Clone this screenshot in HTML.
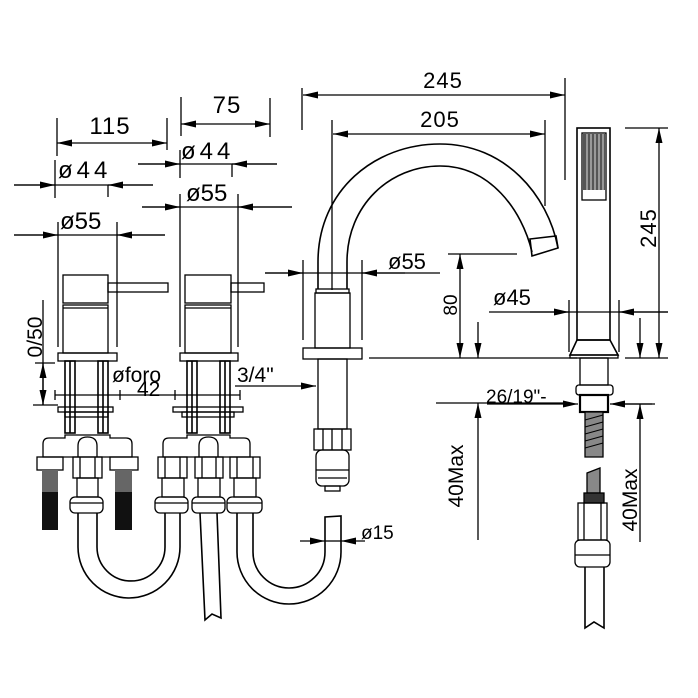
<!DOCTYPE html>
<html><head><meta charset="utf-8"><style>
html,body{margin:0;padding:0;background:#fff}
svg{display:block}
text{font-family:"Liberation Sans",sans-serif;fill:#000}
</style></head><body>
<svg width="698" height="698" viewBox="0 0 698 698" xmlns="http://www.w3.org/2000/svg">
<defs>
<marker id="a" markerUnits="userSpaceOnUse" markerWidth="16" markerHeight="8" refX="15" refY="3.5" orient="auto-start-reverse"><path d="M0,0 L15,3.5 L0,7 z" fill="#000"/></marker>
</defs>
<g stroke="#000" stroke-width="1.3" fill="none">
<line x1="57" y1="143" x2="167" y2="143" marker-start="url(#a)" marker-end="url(#a)"/>
<line x1="57" y1="118" x2="57" y2="156"/><line x1="167" y1="118" x2="167" y2="150"/>
<line x1="181" y1="124" x2="270" y2="124" marker-start="url(#a)" marker-end="url(#a)"/>
<line x1="181" y1="97" x2="181" y2="136"/><line x1="270" y1="98" x2="270" y2="137"/>
<line x1="14" y1="185" x2="153" y2="185"/>
<line x1="14" y1="185" x2="55" y2="185" marker-end="url(#a)"/>
<line x1="153" y1="185" x2="108" y2="185" marker-end="url(#a)"/>
<line x1="55" y1="160" x2="55" y2="198"/><line x1="108" y1="185" x2="108" y2="197"/>
<line x1="138" y1="164" x2="277" y2="164"/>
<line x1="138" y1="164" x2="180" y2="164" marker-end="url(#a)"/>
<line x1="277" y1="164" x2="232" y2="164" marker-end="url(#a)"/>
<line x1="180" y1="150" x2="180" y2="178"/><line x1="232" y1="164" x2="232" y2="177"/>
<line x1="142" y1="207" x2="292" y2="207"/>
<line x1="142" y1="207" x2="180" y2="207" marker-end="url(#a)"/>
<line x1="292" y1="207" x2="238" y2="207" marker-end="url(#a)"/>
<line x1="180" y1="194" x2="180" y2="347"/><line x1="238" y1="194" x2="238" y2="347"/>
<line x1="14" y1="235" x2="165" y2="235"/>
<line x1="14" y1="235" x2="58" y2="235" marker-end="url(#a)"/>
<line x1="165" y1="235" x2="117" y2="235" marker-end="url(#a)"/>
<line x1="58" y1="222" x2="58" y2="347"/><line x1="117" y1="222" x2="117" y2="347"/>

<rect x="63" y="275" width="45" height="28"/>
<rect x="63" y="305" width="45" height="48"/>
<line x1="63" y1="308" x2="108" y2="308"/>
<rect x="108" y="283" width="60" height="9"/>
<rect x="58" y="353" width="59" height="8"/>
<rect x="185" y="275" width="46" height="28"/>
<rect x="185" y="305" width="46" height="48"/>
<line x1="185" y1="308" x2="231" y2="308"/>
<rect x="231" y="283" width="33" height="9"/>
<rect x="180" y="353" width="58" height="8"/>

<g stroke-width="1.6">
<rect x="65" y="361" width="10" height="72"/><line x1="70" y1="361" x2="70" y2="433"/>
<rect x="98" y="361" width="10" height="72"/><line x1="103" y1="361" x2="103" y2="433"/>
<rect x="187" y="361" width="10" height="72"/><line x1="192" y1="361" x2="192" y2="433"/>
<rect x="220" y="361" width="10" height="72"/><line x1="225" y1="361" x2="225" y2="433"/>
</g>
<rect x="58" y="407" width="55" height="5"/><rect x="65" y="412" width="43" height="5"/>
<rect x="173" y="407" width="70" height="5"/><rect x="182" y="412" width="52" height="5"/>

<line x1="43" y1="300" x2="43" y2="405"/>
<line x1="43" y1="385" x2="43" y2="363" marker-end="url(#a)"/>
<line x1="43" y1="385" x2="43" y2="405" marker-end="url(#a)"/>
<line x1="35" y1="363" x2="55" y2="363"/><line x1="33" y1="405" x2="58" y2="405"/>
<line x1="55" y1="395" x2="240" y2="395"/>
<line x1="55" y1="390" x2="55" y2="400"/><line x1="120" y1="390" x2="120" y2="400"/>
<line x1="175" y1="390" x2="175" y2="400"/><line x1="240" y1="390" x2="240" y2="400"/>
<line x1="235" y1="386" x2="316" y2="386" marker-end="url(#a)"/>

<path d="M43,457 L43,444 Q43,438 49,438 L65,438 L65,435 L110,435 L110,438 L126,438 Q132,438 132,444 L132,457 Z"/>
<path d="M78,457 L78,446 Q78,437 87.5,437 Q97,437 97,446 L97,457"/>
<rect x="37" y="457" width="26" height="13"/><rect x="110" y="457" width="28" height="13"/>
<rect x="73" y="457" width="29" height="21"/><line x1="80" y1="457" x2="80" y2="478"/><line x1="95" y1="457" x2="95" y2="478"/>
<rect x="77" y="478" width="21" height="19"/>
<rect x="70" y="497" width="33" height="16" rx="5"/><line x1="70" y1="503" x2="103" y2="503"/>
<path d="M163,457 L163,444 Q163,438 169,438 L187,438 L187,435 L230,435 L230,438 L244,438 Q250,438 250,444 L250,457 Z"/>
<path d="M199,457 L199,446 Q199,437 208.5,437 Q218,437 218,446 L218,457"/>
<rect x="158" y="457" width="29" height="21"/><rect x="195" y="457" width="28" height="21"/><rect x="230" y="457" width="30" height="21"/>
<line x1="165" y1="457" x2="165" y2="478"/><line x1="180" y1="457" x2="180" y2="478"/>
<line x1="202" y1="457" x2="202" y2="478"/><line x1="216" y1="457" x2="216" y2="478"/>
<line x1="237" y1="457" x2="237" y2="478"/><line x1="253" y1="457" x2="253" y2="478"/>
<rect x="162" y="478" width="22" height="19"/><rect x="198" y="478" width="22" height="19"/><rect x="234" y="478" width="22" height="19"/>
<rect x="155" y="497" width="33" height="16" rx="5"/><line x1="155" y1="503" x2="188" y2="503"/>
<rect x="192" y="497" width="33" height="16" rx="5"/><line x1="192" y1="503" x2="225" y2="503"/>
<rect x="227" y="497" width="35" height="16" rx="5"/><line x1="227" y1="503" x2="262" y2="503"/>

<path d="M78,513 L78,547 A51,51 0 0 0 180,547 L180,513" stroke-width="1.6"/>
<path d="M97,513 L97,547 A34,34 0 0 0 165,547 L165,513" stroke-width="1.6"/>
<path d="M237,513 L237,552 A52,52 0 0 0 341,552 L341,516 L325,517 L325,552 A36,36 0 0 1 253,552 L253,513" stroke-width="1.6"/>
<path d="M200,513 L205,620 L212,614 L221,618 L217,513" stroke-width="1.6"/>
<line x1="300" y1="541" x2="325" y2="541" marker-end="url(#a)"/>
<line x1="365" y1="541" x2="341" y2="541" marker-end="url(#a)"/>
<line x1="325" y1="541" x2="341" y2="541"/>

<line x1="302" y1="88" x2="302" y2="130"/><line x1="565" y1="78" x2="565" y2="180"/>
<line x1="303" y1="95" x2="565" y2="95" marker-start="url(#a)" marker-end="url(#a)"/>
<line x1="332" y1="120" x2="332" y2="290"/><line x1="545" y1="120" x2="545" y2="206"/>
<line x1="333" y1="134" x2="545" y2="134" marker-start="url(#a)" marker-end="url(#a)"/>
<path d="M318,289 L318,262 C318,190 375,144 440,144 C505,144 548,195 558,248" stroke-width="1.6"/>
<path d="M347,289 L347,262 C347,205 390,166 440,166 C490,166 522,210 532,252" stroke-width="1.6"/>
<path d="M530,239 L556,236 L558,248 L532,256 Z" stroke-width="1.6"/>
<rect x="316" y="289" width="33" height="4"/>
<rect x="315" y="293" width="35" height="55"/>
<rect x="303" y="348" width="59" height="11"/>
<rect x="318" y="359" width="29" height="70"/>
<rect x="314" y="429" width="37" height="21"/><line x1="323" y1="429" x2="323" y2="450"/><line x1="332" y1="429" x2="332" y2="450"/><line x1="342" y1="429" x2="342" y2="450"/>
<rect x="316" y="450" width="33" height="36" rx="6"/><line x1="316" y1="470" x2="349" y2="470"/><line x1="318" y1="478" x2="347" y2="478"/>
<rect x="325" y="486" width="15" height="5"/>
<line x1="265" y1="273" x2="440" y2="273"/>
<line x1="265" y1="273" x2="303" y2="273" marker-end="url(#a)"/>
<line x1="405" y1="273" x2="362" y2="273" marker-end="url(#a)"/>
<line x1="303" y1="260" x2="303" y2="340"/><line x1="362" y1="260" x2="362" y2="340"/>
<line x1="448" y1="254" x2="517" y2="254"/>
<line x1="369" y1="358" x2="577" y2="358"/>
<line x1="460" y1="254" x2="460" y2="358" marker-start="url(#a)" marker-end="url(#a)"/>
<line x1="478" y1="322" x2="478" y2="358" marker-end="url(#a)"/>
<line x1="436" y1="403" x2="570" y2="403"/>
<line x1="478" y1="540" x2="478" y2="403" marker-end="url(#a)"/>
<line x1="487" y1="404" x2="578" y2="404" marker-end="url(#a)"/>
<line x1="652" y1="404" x2="610" y2="404" marker-end="url(#a)"/>

<rect x="577" y="128" width="33" height="212" stroke-width="1.6"/>
<rect x="582" y="133" width="24" height="67"/>
<rect x="583" y="134" width="22" height="56" fill="#555" stroke="none"/>
<g stroke="#fff" stroke-width="0.8"><line x1="587" y1="134" x2="587" y2="190"/><line x1="591" y1="134" x2="591" y2="190"/><line x1="595" y1="134" x2="595" y2="190"/><line x1="599" y1="134" x2="599" y2="190"/><line x1="603" y1="134" x2="603" y2="190"/></g>
<path d="M577,340 L610,340 L618,355 L570,355 Z" stroke-width="1.6"/>
<rect x="570" y="355" width="48" height="3"/>
<line x1="569" y1="300" x2="569" y2="352"/><line x1="619" y1="300" x2="619" y2="352"/>
<rect x="580" y="358" width="28" height="27"/>
<rect x="576" y="385" width="37" height="10" rx="3"/>
<rect x="580" y="395" width="28" height="17" stroke-width="2.2"/>
<path d="M585,412 L603,412 L603,457 L585,457 Z" fill="#888"/>
<g stroke-width="1"><line x1="585" y1="420" x2="603" y2="415"/><line x1="585" y1="427" x2="603" y2="422"/><line x1="585" y1="434" x2="603" y2="429"/><line x1="585" y1="441" x2="603" y2="436"/><line x1="585" y1="448" x2="603" y2="443"/></g>
<path d="M587,473 L600,468 L600,493 L587,493 Z" fill="#888"/>
<rect x="584" y="493" width="20" height="10" fill="#333"/>
<rect x="578" y="503" width="29" height="37"/><line x1="584" y1="503" x2="584" y2="540"/><line x1="601" y1="503" x2="601" y2="540"/>
<rect x="575" y="540" width="35" height="27" rx="5"/><line x1="575" y1="555" x2="610" y2="555"/>
<path d="M585,567 L585,628 L594,622 L604,628 L604,567" stroke-width="1.6"/>
<line x1="625" y1="128" x2="668" y2="128"/><line x1="625" y1="358" x2="668" y2="358"/>
<line x1="659" y1="128" x2="659" y2="358" marker-start="url(#a)" marker-end="url(#a)"/>
<line x1="489" y1="312" x2="668" y2="312"/>
<line x1="530" y1="312" x2="569" y2="312" marker-end="url(#a)"/>
<line x1="668" y1="312" x2="619" y2="312" marker-end="url(#a)"/>
<line x1="640" y1="318" x2="640" y2="358" marker-end="url(#a)"/>
<line x1="613" y1="404" x2="655" y2="404"/>
<line x1="640" y1="542" x2="640" y2="404" marker-end="url(#a)"/>
</g>
<g stroke="none">
<rect x="42" y="470" width="16" height="22" fill="#666"/><rect x="42" y="492" width="16" height="38" fill="#111"/>
<rect x="115" y="470" width="17" height="22" fill="#666"/><rect x="115" y="492" width="17" height="38" fill="#111"/>
</g>
<g font-size="24">
<text x="110" y="134" text-anchor="middle" letter-spacing="1">115</text>
<text x="227" y="113" text-anchor="middle" letter-spacing="1">75</text>
<text x="58" y="178" letter-spacing="4">ø44</text>
<text x="181" y="159" letter-spacing="4">ø44</text>
<text x="186" y="201">ø55</text>
<text x="60" y="229">ø55</text>
<text x="443" y="88" text-anchor="middle" font-size="22" letter-spacing="1">245</text>
<text x="440" y="127" text-anchor="middle" font-size="22" letter-spacing="1">205</text>
<text x="388" y="269" font-size="22">ø55</text>
<text x="493" y="305" font-size="22">ø45</text>
</g>
<g font-size="21">
<text x="112" y="382">øforo</text>
<text x="137" y="396">42</text>
<text x="237" y="382">3/4"</text>
<text x="486" y="403" font-size="19">26/19"-</text>
<text x="361" y="539" font-size="19">ø15</text>
</g>
<text transform="translate(42,337) rotate(-90)" font-size="21" text-anchor="middle">0/50</text>
<text transform="translate(457,305) rotate(-90)" font-size="19" text-anchor="middle">80</text>
<text transform="translate(463,476) rotate(-90)" font-size="21" text-anchor="middle">40Max</text>
<text transform="translate(656,228) rotate(-90)" font-size="22" text-anchor="middle" letter-spacing="1">245</text>
<text transform="translate(637,500) rotate(-90)" font-size="21" text-anchor="middle">40Max</text>
</svg>
</body></html>
